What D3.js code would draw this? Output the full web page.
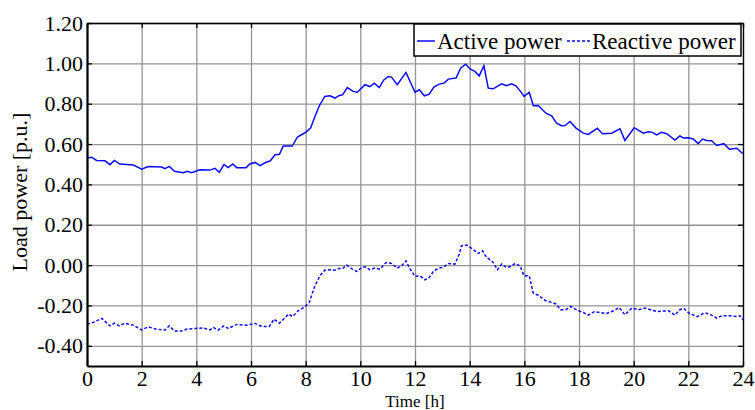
<!DOCTYPE html>
<html>
<head>
<meta charset="utf-8">
<script src="https://cdn.jsdelivr.net/npm/d3@7"></script>
<style>
  html, body { margin: 0; padding: 0; background: #fff; }
  svg { display: block; }
  svg text { font-family: "Liberation Serif", "Times New Roman", serif !important; fill: #000; }
</style>
</head>
<body>
<svg id="chart" width="755" height="410"></svg>
<script>
// ---- data ----
const xTickValues = [0, 2, 4, 6, 8, 10, 12, 14, 16, 18, 20, 22, 24];
const yTickValues = [-0.4, -0.2, 0.0, 0.2, 0.4, 0.6, 0.8, 1.0, 1.2];
const yTickLabels = ["-0.40", "-0.20", "0.00", "0.20", "0.40", "0.60", "0.80", "1.00", "1.20"];
const seriesNames = ["Active power", "Reactive power"];

const activeT = [0, 0.17, 0.35, 0.66, 0.84, 1.0, 1.2, 1.7, 2.0, 2.24, 2.73, 2.85, 3.01, 3.2, 3.52, 3.67, 3.83,
  4.13, 4.5, 4.68, 4.84, 5.01, 5.17, 5.33, 5.48, 5.82, 5.96, 6.15, 6.33, 6.57, 6.7, 6.88, 7.04, 7.18, 7.51,
  7.7, 7.91, 8.01, 8.18, 8.34, 8.5, 8.7, 8.89, 9.07, 9.23, 9.35, 9.52, 9.74, 9.89, 10.17, 10.35, 10.51,
  10.69, 10.86, 11.02, 11.14, 11.35, 11.67, 12.0, 12.16, 12.34, 12.52, 12.69, 12.89, 13.06, 13.22, 13.5,
  13.67, 13.85, 14.03, 14.19, 14.35, 14.52, 14.68, 14.86, 15.17, 15.35, 15.53, 15.69, 15.86, 15.99, 16.18,
  16.33, 16.51, 16.79, 17.0, 17.18, 17.36, 17.49, 17.67, 17.89, 18.16, 18.34, 18.67, 18.86, 19.19, 19.5,
  19.68, 20.02, 20.35, 20.54, 20.69, 20.84, 21.02, 21.21, 21.51, 21.69, 21.82, 22.0, 22.18, 22.36, 22.52,
  22.67, 22.85, 23.04, 23.3, 23.5, 23.77, 24.0];
const activeP = [0.531, 0.535, 0.519, 0.517, 0.498, 0.519, 0.501, 0.496, 0.476, 0.489, 0.486, 0.478, 0.489,
  0.465, 0.458, 0.465, 0.458, 0.473, 0.471, 0.480, 0.460, 0.498, 0.483, 0.501, 0.483, 0.483, 0.501, 0.509,
  0.493, 0.511, 0.516, 0.547, 0.549, 0.590, 0.590, 0.635, 0.651, 0.659, 0.679, 0.737, 0.790, 0.836, 0.839,
  0.828, 0.841, 0.844, 0.880, 0.861, 0.857, 0.894, 0.885, 0.902, 0.880, 0.918, 0.935, 0.932, 0.894, 0.955,
  0.857, 0.869, 0.839, 0.847, 0.882, 0.897, 0.902, 0.922, 0.927, 0.976, 0.996, 0.971, 0.960, 0.938, 0.988,
  0.877, 0.874, 0.899, 0.889, 0.899, 0.889, 0.861, 0.836, 0.857, 0.790, 0.791, 0.753, 0.740, 0.704, 0.691,
  0.692, 0.712, 0.679, 0.654, 0.648, 0.678, 0.651, 0.654, 0.676, 0.618, 0.681, 0.654, 0.661, 0.658, 0.645,
  0.658, 0.651, 0.620, 0.640, 0.630, 0.631, 0.625, 0.602, 0.625, 0.618, 0.617, 0.593, 0.602, 0.574, 0.579,
  0.552];

const reactiveT = [0, 0.23, 0.54, 0.84, 1.0, 1.18, 1.39, 1.7, 2.0, 2.24, 2.52, 2.85, 3.01, 3.2, 3.46, 3.65,
  3.95, 4.26, 4.5, 4.62, 4.8, 5.01, 5.17, 5.48, 5.84, 6.15, 6.39, 6.67, 6.84, 7.04, 7.37, 7.52, 7.73, 7.94,
  8.13, 8.34, 8.52, 8.7, 8.89, 9.07, 9.23, 9.35, 9.5, 9.68, 9.86, 10.05, 10.17, 10.35, 10.53, 10.72, 10.94,
  11.14, 11.35, 11.51, 11.67, 11.81, 12.0, 12.18, 12.36, 12.52, 12.69, 12.89, 13.06, 13.22, 13.46, 13.62,
  13.7, 13.89, 14.07, 14.31, 14.47, 14.62, 14.84, 15.02, 15.17, 15.35, 15.47, 15.66, 15.84, 15.99, 16.18,
  16.33, 16.51, 16.75, 17.0, 17.16, 17.33, 17.52, 17.69, 17.97, 18.16, 18.34, 18.55, 18.77, 19.01, 19.26,
  19.47, 19.68, 19.93, 20.17, 20.41, 20.66, 20.84, 21.27, 21.51, 21.69, 21.84, 22.04, 22.33, 22.61, 22.79,
  23.04, 23.22, 23.52, 23.77, 23.89, 24.0];
const reactiveQ = [-0.293, -0.284, -0.264, -0.301, -0.288, -0.301, -0.288, -0.298, -0.321, -0.306, -0.317,
  -0.322, -0.301, -0.326, -0.327, -0.317, -0.314, -0.312, -0.321, -0.309, -0.322, -0.301, -0.314, -0.294,
  -0.298, -0.289, -0.304, -0.304, -0.268, -0.288, -0.243, -0.255, -0.226, -0.210, -0.185, -0.102, -0.053,
  -0.025, -0.023, -0.025, -0.017, -0.017, 0.0, -0.017, -0.031, -0.012, -0.008, -0.023, -0.015, -0.020, 0.013,
  0.008, -0.015, -0.003, 0.021, -0.017, -0.056, -0.053, -0.073, -0.061, -0.028, -0.015, -0.008, 0.008, 0.005,
  0.055, 0.096, 0.099, 0.083, 0.058, 0.071, 0.038, 0.017, -0.023, 0.005, -0.012, -0.008, 0.008, -0.003,
  -0.053, -0.053, -0.140, -0.149, -0.174, -0.185, -0.193, -0.221, -0.221, -0.205, -0.226, -0.235, -0.248,
  -0.231, -0.235, -0.240, -0.226, -0.210, -0.246, -0.213, -0.221, -0.213, -0.223, -0.230, -0.226, -0.248,
  -0.221, -0.215, -0.240, -0.255, -0.236, -0.243, -0.263, -0.251, -0.251, -0.255, -0.251, -0.271];

// ---- layout ----
const svg = d3.select("#chart");
const pLeft = 87, pRight = 743, pTop = 23, pBottom = 366;
const x = d3.scaleLinear().domain([0, 24]).range([pLeft, pRight]);
const y = d3.scaleLinear().domain([-0.5, 1.2]).range([pBottom, pTop]);
const lineColor = "#0a0aff";
const serif = '"Liberation Serif", "Times New Roman", serif';

// grid
const grid = svg.append("g");
grid.append("g").attr("transform", `translate(0,${pBottom})`)
  .call(d3.axisBottom(x).tickValues(xTickValues).tickSize(-(pBottom - pTop)).tickFormat(""))
  .call(g => g.select(".domain").remove());
grid.append("g").attr("transform", `translate(${pLeft},0)`)
  .call(d3.axisLeft(y).tickValues(yTickValues).tickSize(-(pRight - pLeft)).tickFormat(""))
  .call(g => g.select(".domain").remove());
grid.selectAll("line").attr("stroke", "#959595").attr("stroke-width", 1.3);

// lines
const activeData = activeT.map((t, i) => [t, activeP[i]]);
const reactiveData = reactiveT.map((t, i) => [t, reactiveQ[i]]);
const line = d3.line().x(d => x(d[0])).y(d => y(d[1]));
svg.append("path").datum(activeData).attr("d", line)
  .attr("fill", "none").attr("stroke", lineColor).attr("stroke-width", 1.5);
svg.append("path").datum(reactiveData).attr("d", line)
  .attr("fill", "none").attr("stroke", lineColor).attr("stroke-width", 1.5)
  .attr("stroke-dasharray", "3,2");

// frame axes (top/right thin, with inward ticks)
svg.append("g").attr("transform", `translate(0,${pTop})`)
  .call(d3.axisTop(x).tickValues(xTickValues).tickSize(-5).tickSizeOuter(0).tickFormat(""))
  .call(g => g.selectAll("line,path").attr("stroke", "#000").attr("stroke-width", 1.3));
svg.append("g").attr("transform", `translate(${pRight},0)`)
  .call(d3.axisRight(y).tickValues(yTickValues).tickSize(-5).tickSizeOuter(0).tickFormat(""))
  .call(g => g.selectAll("line,path").attr("stroke", "#000").attr("stroke-width", 1.3));

// bottom axis
const xAxisG = svg.append("g").attr("transform", `translate(0,${pBottom})`)
  .call(d3.axisBottom(x).tickValues(xTickValues).tickSize(-5).tickSizeOuter(0).tickPadding(4)
    .tickFormat(d => String(d)));
xAxisG.attr("font-family", serif).attr("font-size", 22);
xAxisG.selectAll("line").attr("stroke", "#000").attr("stroke-width", 1.3);
xAxisG.select(".domain").attr("stroke", "#000").attr("stroke-width", 2.2);
xAxisG.selectAll("text").style("font-family", serif).style("font-size", "22px").attr("dy", "0.71em");

// left axis
const yAxisG = svg.append("g").attr("transform", `translate(${pLeft},0)`)
  .call(d3.axisLeft(y).tickValues(yTickValues).tickSize(-5).tickSizeOuter(0).tickPadding(4)
    .tickFormat((d, i) => yTickLabels[i]));
yAxisG.attr("font-family", serif).attr("font-size", 22);
yAxisG.selectAll("line").attr("stroke", "#000").attr("stroke-width", 1.3);
yAxisG.select(".domain").attr("stroke", "#000").attr("stroke-width", 2.2);
yAxisG.selectAll("text").style("font-family", serif).style("font-size", "22px");

// axis titles
svg.append("text").attr("x", (pLeft + pRight) / 2).attr("y", 407)
  .attr("text-anchor", "middle").style("font-size", "17px").text("Time [h]");
svg.append("text").attr("transform", `translate(27,192) rotate(-90)`)
  .attr("text-anchor", "middle").style("font-size", "22px").text("Load power [p.u.]");

// legend
const lg = svg.append("g");
lg.append("rect").attr("x", 414).attr("y", 24).attr("width", 327).attr("height", 32)
  .attr("fill", "#fff").attr("stroke", "#000").attr("stroke-width", 1.5);
lg.append("line").attr("x1", 417).attr("x2", 435).attr("y1", 41).attr("y2", 41)
  .attr("stroke", lineColor).attr("stroke-width", 1.5);
lg.append("text").attr("x", 437).attr("y", 49).style("font-size", "23px").text(seriesNames[0]);
lg.append("line").attr("x1", 567).attr("x2", 590).attr("y1", 41).attr("y2", 41)
  .attr("stroke", lineColor).attr("stroke-width", 1.5).attr("stroke-dasharray", "3,2");
lg.append("text").attr("x", 592).attr("y", 49).style("font-size", "23px").text(seriesNames[1]);
</script>
</body>
</html>
